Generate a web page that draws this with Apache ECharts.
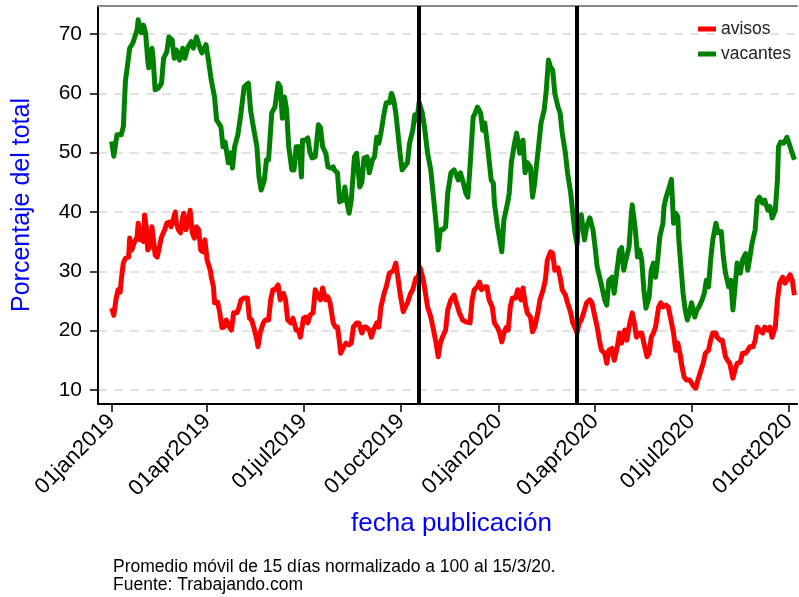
<!DOCTYPE html>
<html>
<head>
<meta charset="utf-8">
<script src="https://cdn.jsdelivr.net/npm/echarts@6/dist/echarts.min.js"></script>
<style>
html, body { margin: 0; padding: 0; background: #fff; }
#chart { width: 799px; height: 597px; }
</style>
</head>
<body>
<div id="chart"></div>
<script>
// days since 01jan2019, value (% del total)
var avisos = [
  [0,23.8],[2,22.6],[4,25.2],[6,26.9],[8,26.5],[9,28.5],[11,31.4],[13,32.2],[16,32.4],[17,35.6],
  [19,33.6],[21,34.7],[24,35.8],[25,38.1],[27,35.3],[28,37],[30,35],[31,39.5],[33,37],[34,33.6],
  [36,34.1],[38,37.5],[39,37.8],[41,32.8],[43,32.4],[46,35],[47,35.8],[50,37],[52,38.1],[54,38.3],
  [56,37.5],[58,38.7],[60,40],[61,38.1],[63,37],[65,36.5],[67,39.2],[68,39.8],[70,37],[72,38.1],
  [74,40.3],[76,36.5],[78,35.6],[80,37.5],[82,37],[84,33.6],[86,33.3],[88,35.3],[90,31.9],[93,30.2],
  [94,29],[96,27.4],[97,24.7],[100,24.8],[102,23],[104,20.5],[106,20.6],[108,21.8],[111,20.6],[113,20.1],
  [115,23],[118,23],[120,23.8],[122,25.2],[125,25.5],[128,25.5],[130,22.1],[132,21.8],[134,20.6],[137,18.4],
  [138,17.3],[140,19.6],[143,21.3],[145,21.8],[148,21.8],[150,25.2],[152,26.9],[154,26.9],[157,27.7],[159,25.2],
  [162,26.3],[164,25.2],[166,21.8],[169,21.3],[171,22.1],[174,20.1],[176,20.1],[178,18.9],[181,22.1],[183,22.3],
  [185,21.3],[187,22.6],[190,23],[192,26.9],[195,25.7],[197,25.2],[199,27.2],[202,25.2],[204,25.7],[206,24.7],
  [209,21.3],[211,20.6],[213,20.6],[215,17.9],[216,16.2],[219,17.3],[221,17.9],[224,17.6],[226,17.9],[228,20.6],
  [231,21.3],[233,21.3],[236,19.6],[238,20.6],[240,20.6],[243,20.1],[245,18.9],[247,20.1],[250,21.3],[252,20.6],
  [254,24],[257,26.3],[259,27.4],[262,29.7],[264,29.9],[266,30.2],[268,31.4],[270,29],[272,26.3],[275,23.2],
  [277,24],[279,24.7],[282,26.3],[284,26.9],[287,28.9],[289,29],[291,30.6],[294,28.5],[296,26.3],[298,24],
  [301,22.3],[303,20.6],[306,17.9],[308,15.6],[310,17.9],[312,18.9],[315,20.1],[317,23.5],[320,25.2],[323,26],
  [325,24.8],[328,23],[331,21.8],[334,21.5],[338,21.3],[340,25.2],[342,26.9],[345,27.4],[347,28.2],[349,26.9],
  [352,27.4],[354,27.4],[356,25.2],[359,24],[361,21.3],[364,20.5],[366,19.6],[368,18.1],[370,19.6],[372,20.5],
  [374,20.1],[376,24],[378,25.5],[381,25.5],[383,26.9],[386,25.2],[388,27.2],[390,24.7],[392,23],[395,22.3],
  [397,19.8],[399,20.6],[402,23],[404,25.2],[407,26.9],[409,28.5],[411,31.9],[414,33.3],[416,33],[418,30.2],
  [421,30.6],[423,29],[425,26.9],[428,26],[430,24.7],[433,23],[435,21.3],[437,20.5],[439,19.6],[441,21.3],
  [443,21.8],[446,23.5],[448,24.7],[451,25.2],[453,24.7],[455,23],[458,20.6],[460,18.4],[462,16.7],[465,16.2],
  [467,14.5],[469,16.7],[472,17],[474,15],[477,17.3],[479,19.6],[481,17.9],[484,20.1],[486,18.4],[488,20.6],
  [491,23],[493,21.3],[495,18.9],[498,19.6],[500,19.6],[502,17.9],[505,15.6],[507,16.2],[509,18.9],[511,19.6],
  [513,20.6],[516,24],[518,24.7],[520,24],[523,24.3],[525,24],[527,22.3],[530,19.6],[532,16.7],[534,17.9],
  [536,16.2],[538,13.9],[540,12.2],[542,11.7],[545,11.7],[547,11.2],[549,10.6],[551,10.3],[553,11.7],[556,13.4],
  [558,14.5],[560,16.2],[563,16.7],[565,18.4],[567,19.6],[570,19.6],[571,18.9],[574,18.4],[576,18.4],[579,15.6],
  [581,15],[583,14.5],[586,12],[588,13.4],[590,14.5],[593,14.7],[595,16.2],[598,16.2],[600,16.7],[602,17.3],
  [605,17.3],[607,18.4],[609,20.6],[611,20.1],[614,19.6],[616,20.6],[619,20.1],[621,20.6],[623,18.9],[626,20.6],
  [628,25.2],[630,28],[633,29],[635,28],[637,28.5],[640,29.4],[642,28.5],[644,26]
];

var vacantes = [
  [0,51.9],[2,49.4],[5,53],[9,53],[11,54.4],[13,62.2],[14,63.4],[17,67.6],[20,68.5],[24,70.7],
  [25,72.4],[28,70.2],[30,71.5],[32,70.2],[34,65.6],[35,64.3],[38,67.6],[39,66.1],[41,60.6],[44,60.9],
  [47,61.7],[49,65.9],[52,67],[54,69.5],[57,69],[59,65.9],[61,67.3],[64,65.6],[67,67.6],[69,65.9],
  [72,67.8],[75,68.7],[77,67.6],[80,69.5],[83,67.8],[85,66.8],[89,68.2],[91,65.9],[94,62.2],[97,59.4],
  [99,55.5],[100,55.8],[103,54.4],[105,51],[107,51.8],[110,48.3],[112,50],[114,47.4],[116,51],[119,53],
  [122,56.7],[125,61.1],[127,61.4],[129,61.7],[131,57.2],[133,55],[137,51],[139,45.9],[141,43.7],[144,45.4],
  [146,48.8],[148,48.8],[151,56.7],[154,57.7],[157,61.7],[159,61.1],[161,55.8],[163,59.4],[165,57.2],[167,51],
  [170,47.1],[172,47.1],[174,51],[177,51],[179,45.9],[180,52.1],[183,52.1],[185,52.5],[187,50.1],[189,49.1],
  [192,49.3],[195,54.7],[197,54.2],[199,51],[202,49.9],[204,47.6],[207,47.4],[209,47.6],[210,47.1],[213,46.6],
  [215,41.7],[218,42],[220,44.2],[222,41.5],[224,39.8],[226,42],[229,49.3],[231,49.9],[234,44.2],[236,45],
  [238,49.1],[241,49.3],[243,46.6],[246,48.8],[248,49.3],[250,52.6],[252,51.6],[254,53.3],[257,56.7],[259,58.4],
  [262,58.4],[264,60],[266,58.9],[268,56.7],[270,53.3],[272,49.9],[274,47.1],[276,47.6],[279,48.3],[281,51.6],
  [284,53.8],[286,56.4],[288,55.5],[290,58.5],[293,56.7],[295,54.4],[298,49.9],[301,47.1],[303,43.5],[306,38.1],
  [308,33.6],[310,37],[312,37],[315,37.5],[317,43.2],[320,46.6],[323,47.1],[327,45.4],[329,46.6],[331,45.4],
  [334,43.2],[336,42.5],[338,47.6],[341,56],[343,56.7],[345,57.7],[348,56.7],[350,53.8],[352,55],[355,50.4],
  [358,45.4],[360,44.9],[361,41.5],[364,37.5],[368,33.3],[370,38.7],[374,42],[375,43.2],[377,48.3],[380,51.6],
  [382,53.3],[385,49.9],[388,52.1],[390,46.6],[392,48.3],[395,47.6],[397,42.5],[399,44.9],[400,46.6],[403,51.6],
  [405,55],[408,57.2],[410,60.6],[412,65.6],[414,64.4],[416,63.9],[418,60],[421,57.7],[423,56.7],[425,53.3],
  [428,49.9],[430,46.6],[433,43.2],[435,39.8],[437,36.5],[439,34.5],[441,39.2],[443,39.5],[446,35.3],[448,37.5],
  [451,39],[454,37],[456,34.1],[458,30.7],[461,28.5],[463,26.9],[465,25.2],[467,24.3],[469,28.5],[472,29],
  [474,26.3],[477,30.7],[479,33.5],[481,34],[483,30.2],[485,31.9],[488,34.1],[490,39.2],[491,41.2],[494,37],
  [496,32.4],[498,33.6],[500,31.9],[502,26.9],[504,23.8],[507,25.7],[509,30.2],[511,31.4],[513,29],[515,31.9],
  [517,35.8],[520,38.1],[521,40.9],[523,42.5],[526,44.2],[528,45.5],[530,38.1],[532,39.8],[534,39.2],[535,35.3],
  [537,30.7],[539,26.3],[541,23.5],[543,21.8],[545,23],[547,24.7],[550,22.3],[552,23.5],[554,24],[557,25.2],
  [559,26.3],[561,28.5],[563,27.4],[565,31.9],[567,35.3],[570,38.1],[572,36.5],[575,36.7],[577,32.4],[579,29.7],
  [582,27.4],[584,28.5],[586,23.5],[588,27.4],[590,31.4],[593,29.7],[595,31.9],[598,33],[600,30.2],[602,32.4],
  [604,34.7],[607,37],[609,42],[611,42.5],[614,41.5],[616,42],[619,40.3],[621,40.9],[623,39],[626,40.3],
  [628,45.4],[629,51],[631,51.8],[634,51.6],[637,52.6],[640,51],[642,49.9],[644,48.8]
];

var tickDates = ['2019-01-01','2019-04-01','2019-07-01','2019-10-01','2020-01-01','2020-04-01','2020-07-01','2020-10-01'];
var eventDates = ['2019-10-18','2020-03-15'];
var yTicks = [10, 20, 30, 40, 50, 60, 70];
var monthNames = ['jan','feb','mar','apr','may','jun','jul','aug','sep','oct','nov','dec'];

var DAY = 86400000;
var BASE = Date.UTC(2019, 0, 1);
function ts(s) {
    var p = s.split('-');
    return Date.UTC(+p[0], +p[1] - 1, +p[2]);
}
function toSeries(arr) {
    return arr.map(function (d) { return [BASE + d[0] * DAY, d[1]]; });
}
function fmtDate(v) {
    var d = new Date(v);
    var dd = d.getUTCDate();
    return (dd < 10 ? '0' : '') + dd + monthNames[d.getUTCMonth()] + d.getUTCFullYear();
}

var tickTs = tickDates.map(ts);
var FONT = 'Liberation Sans, Arial, sans-serif';
var X_MIN = BASE - 12.9 * DAY;
var X_MAX = BASE + 646.5 * DAY;

var option = {
    animation: false,
    backgroundColor: '#fff',
    textStyle: { fontFamily: FONT },
    grid: { left: 98, right: 0, top: 6, bottom: 193 },
    legend: {
        data: ['avisos', 'vacantes'],
        orient: 'vertical',
        left: 693, top: 15,
        icon: 'rect',
        itemWidth: 18, itemHeight: 5,
        itemGap: 7,
        textStyle: { fontSize: 17.5, color: '#222' }
    },
    title: {
        text: 'Promedio móvil de 15 días normalizado a 100 al 15/3/20.\nFuente: Trabajando.com',
        left: 108, top: 553,
        textStyle: { fontSize: 17.5, fontWeight: 'normal', color: '#000', lineHeight: 18, fontFamily: FONT }
    },
    xAxis: [
        {
            type: 'value',
            min: X_MIN,
            max: X_MAX,
            name: 'fecha publicación',
            nameLocation: 'middle',
            nameGap: 107,
            nameTextStyle: { color: '#0000ff', fontSize: 26, padding: [0, 0, 0, 8] },
            axisLine: { onZero: false, lineStyle: { color: '#000', width: 2 } },
            axisTick: { show: true, length: 8, customValues: tickTs, lineStyle: { color: '#000', width: 1.5 } },
            axisLabel: {
                customValues: tickTs,
                rotate: 45,
                margin: 14,
                fontSize: 22,
                color: '#000',
                formatter: fmtDate
            },
            splitLine: { show: false }
        },
        {
            // upper frame line
            type: 'value',
            position: 'top',
            min: X_MIN,
            max: X_MAX,
            axisLine: { onZero: false, lineStyle: { color: '#888', width: 2 } },
            axisTick: { show: false },
            axisLabel: { show: false },
            splitLine: { show: false }
        }
    ],
    yAxis: {
        type: 'value',
        min: 7.64,
        max: 74.72,
        name: 'Porcentaje del total',
        nameLocation: 'middle',
        nameGap: 63,
        nameTextStyle: { color: '#0000ff', fontSize: 25 },
        axisLine: { show: true, lineStyle: { color: '#000', width: 2 } },
        axisTick: { show: true, length: 8, customValues: yTicks, lineStyle: { color: '#000', width: 1.5 } },
        axisLabel: { customValues: yTicks, margin: 16, fontSize: 21, color: '#000' },
        splitLine: { show: true, lineStyle: { color: '#d9d9d9', width: 1.5, type: [9, 7] } }
    },
    series: [
        {
            name: 'avisos',
            type: 'line',
            data: toSeries(avisos),
            showSymbol: false,
            color: '#ff0000',
            lineStyle: { width: 5, color: '#ff0000', join: 'round' }
        },
        {
            name: 'vacantes',
            type: 'line',
            data: toSeries(vacantes),
            showSymbol: false,
            color: '#008000',
            lineStyle: { width: 5, color: '#008000', join: 'round' }
        },
        {
            name: 'eventos',
            type: 'line',
            data: [],
            z: 5,
            markLine: {
                silent: true,
                symbol: 'none',
                label: { show: false },
                lineStyle: { color: '#000', width: 4, type: 'solid' },
                data: eventDates.map(function (d) { return { xAxis: ts(d) }; })
            }
        }
    ]
};

var myChart = echarts.init(document.getElementById('chart'));
myChart.setOption(option);
</script>
</body>
</html>
